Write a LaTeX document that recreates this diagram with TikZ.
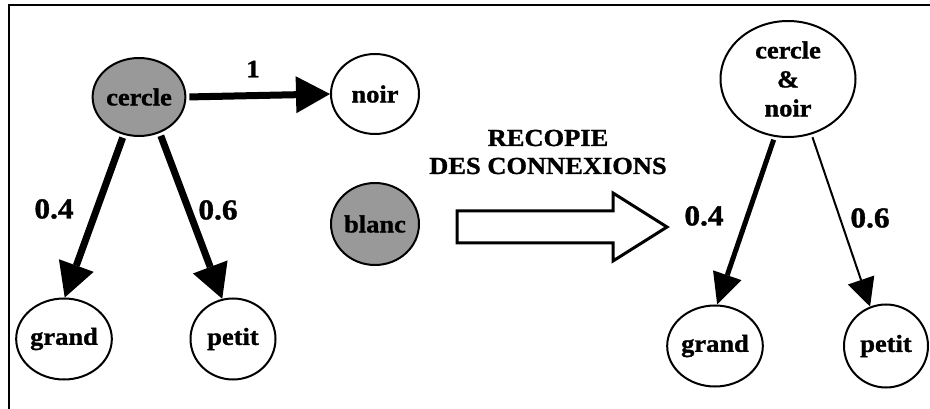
\documentclass[tikz,border=0pt]{standalone}
\usepackage{fontspec}
\setmainfont[FakeStretch=1.08,BoldFeatures={FakeBold=1.2}]{Liberation Serif}
\usetikzlibrary{shapes.geometric,arrows.meta}
\definecolor{nodefill}{RGB}{153,153,153}
\begin{document}
\begin{tikzpicture}[x=1pt,y=-1pt,
  concept/.style={ellipse,draw,line width=2pt,inner sep=0pt,
    font=\fontsize{24.5}{29}\selectfont\bfseries},
  active/.style={concept,fill=nodefill},
  weight/.style={inner sep=0pt,font=\fontsize{29}{34}\selectfont\bfseries},
  heavy/.style={line width=7pt,shorten <=3pt,
    -{Triangle[length=34pt,width=37pt,line width=0pt]}},
  medium/.style={line width=5pt,shorten <=3pt,
    -{Triangle[length=31pt,width=30pt,line width=0pt]}},
  light/.style={line width=2pt,shorten <=3pt,
    -{Triangle[length=28pt,width=28pt,line width=0pt]}}
]
\useasboundingbox (0,0) rectangle (930,409);

% open frame: top and left sides only
\draw[line width=2.5pt] (9,415) -- (9,5) -- (936,5);

% network before the copy
\node[active,minimum width=88pt,minimum height=78pt] (cercle) at (139,97) {cercle};
\node[concept,minimum width=88pt,minimum height=80pt] (noir) at (375,94) {noir};
\node[active,minimum width=88pt,minimum height=82pt] (blanc) at (375,224) {blanc};
\node[concept,minimum width=89pt,minimum height=81pt] (grand) at (64,339) {grand};
\node[concept,minimum width=85pt,minimum height=81pt] (petit) at (233,339) {petit};

\draw[heavy] (cercle.east) -- (noir.west);
\draw[heavy] (cercle.-112) -- (grand.89);
\draw[heavy] (cercle.-60) -- (petit.105);

\node[weight,font=\fontsize{25}{30}\selectfont\bfseries] (w1) at (253,69) {1};
\node[weight] (w2) at (54,209) {0.4};
\node[weight] (w3) at (218,210) {0.6};

% copy operation
\node[align=center,inner sep=0pt,font=\fontsize{24.5}{28}\selectfont\bfseries]
  (copy) at (548,152) {RECOPIE\\DES CONNEXIONS};
\draw[line width=3pt,line join=miter,fill=white]
  (457,211) -- (613,211) -- (613,193) -- (667,227) -- (613,261)
  -- (613,243) -- (457,243) -- cycle;

% network after the copy
\node[concept,align=center,minimum width=135pt,minimum height=116pt] (cn) at (788,79)
  {cercle\\\&\\noir};
\node[concept,minimum width=84pt,minimum height=81pt] (grand2) at (715,346) {grand};
\node[concept,minimum width=84pt,minimum height=83pt] (petit2) at (886,346) {petit};

\draw[medium] (cn.-103) -- (grand2.87);
\draw[light] (cn.-67) -- (petit2.112);

\node[weight] (w4) at (704,216) {0.4};
\node[weight] (w5) at (870,218) {0.6};
\end{tikzpicture}
\end{document}
